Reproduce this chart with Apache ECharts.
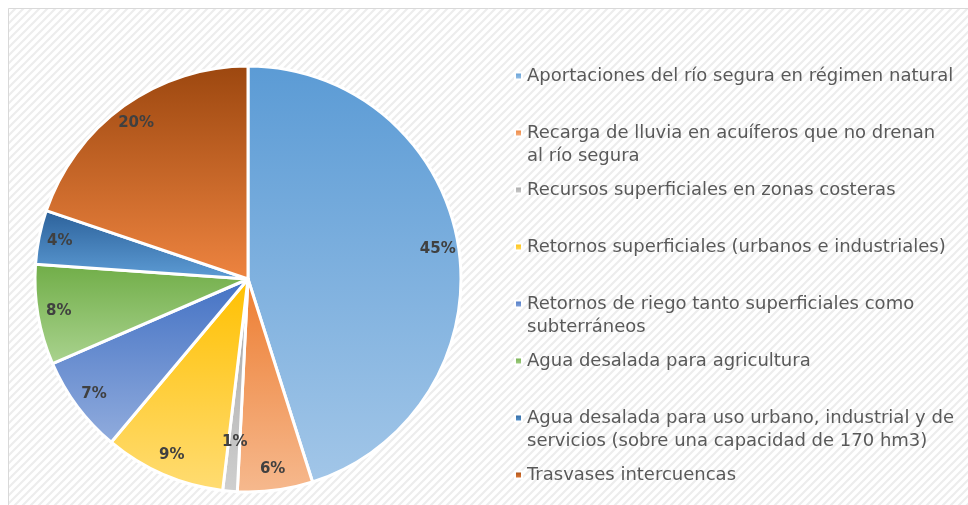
<!DOCTYPE html>
<html><head><meta charset="utf-8">
<script src="https://cdn.jsdelivr.net/npm/echarts@6/dist/echarts.min.js"></script>
<style>html,body{margin:0;padding:0;background:#fff}#c{width:968px;height:505px}</style>
</head><body><div id="c"></div>
<script>
const categories = [
  'Aportaciones del río segura en régimen natural',
  'Recarga de lluvia en acuíferos que no drenan al río segura',
  'Recursos superficiales en zonas costeras',
  'Retornos superficiales (urbanos e industriales)',
  'Retornos de riego tanto superficiales como subterráneos',
  'Agua desalada para agricultura',
  'Agua desalada para uso urbano, industrial y de servicios (sobre una capacidad de 170 hm3)',
  'Trasvases intercuencas'
];
const values = [45.1, 5.7, 1.1, 9.2, 7.4, 7.6, 4.1, 19.8];
const legendLines = [
  'Aportaciones del río segura en régimen natural',
  'Recarga de lluvia en acuíferos que no drenan\nal río segura',
  'Recursos superficiales en zonas costeras',
  'Retornos superficiales (urbanos e industriales)',
  'Retornos de riego tanto superficiales como\nsubterráneos',
  'Agua desalada para agricultura',
  'Agua desalada para uso urbano, industrial y de\nservicios (sobre una capacidad de 170 hm3)',
  'Trasvases intercuencas'
];
const colorTop = ['#5B9BD5','#ED7D31','#A5A5A5','#FFC000','#4472C4','#70AD47','#2B6099','#9C470F'];
const colorBottom = ['#A2C6E8','#F6B98E','#CFCFCF','#FFDC73','#91ACDD','#AAD38F','#5E9DD6','#EE8440'];

// background hatch pattern
const pc = document.createElement('canvas');
pc.width = 8; pc.height = 8;
const g = pc.getContext('2d');
g.fillStyle = '#ffffff'; g.fillRect(0,0,8,8);
g.strokeStyle = '#EDEDED'; g.lineWidth = 2.2;
g.beginPath();
g.moveTo(-2,10); g.lineTo(10,-2);
g.moveTo(-2,2); g.lineTo(2,-2);
g.moveTo(6,10); g.lineTo(10,6);
g.stroke();

const chart = echarts.init(document.getElementById('c'), null, {renderer:'canvas'});
const cx = 248, cy = 279, R = 213;
const grad = i => new echarts.graphic.LinearGradient(0,0,0,1,[
  {offset:0,color:colorTop[i]},{offset:1,color:colorBottom[i]}]);

const pieData = categories.map((n,i)=>({name:n,value:values[i],itemStyle:{color:grad(i)}}));
const labelData = categories.map((n,i)=>{
  const d = {name:n,value:values[i]};
  if (values[i] < 2) d.label = {offset:[3,-28]};
  return d;
});

const legends = categories.map((n,i)=>{
  const multi = legendLines[i].indexOf('\n') >= 0;
  const lineY = 76 + 57*i;
  return {
    orient:'vertical', left:514, top: lineY - 11.5 - (multi ? 23 : 0), padding:0,
    icon:'rect', itemWidth:7, itemHeight:7, selectedMode:false,
    data:[n],
    formatter: () => multi ? ' \n' + legendLines[i] : legendLines[i],
    textStyle:{fontFamily:'DejaVu Sans', fontSize:18, color:'#595959', lineHeight:23}
  };
});

chart.setOption({
  animation:false,
  graphic:[{type:'rect', z:-10, shape:{x:8.5,y:8.5,width:980,height:520},
    style:{fill:{image:pc,repeat:'repeat'}, stroke:'#D9D9D9', lineWidth:1}}],
  legend: legends,
  series:[
    {type:'pie', center:[cx,cy], radius:R, startAngle:90, clockwise:true,
     label:{show:false}, labelLine:{show:false},
     itemStyle:{borderColor:'#ffffff', borderWidth:3},
     emphasis:{disabled:true}, silent:true, data:pieData},
    {type:'pie', center:[cx,cy], radius:[165,R], startAngle:90, clockwise:true,
     silent:true, emphasis:{disabled:true}, labelLine:{show:false},
     itemStyle:{color:'rgba(0,0,0,0)', borderWidth:0},
     label:{show:true, position:'inside', fontFamily:'DejaVu Sans', fontWeight:'bold',
       fontSize:15, color:'#404040',
       formatter:p=>Math.round(p.percent)+'%'},
     data:labelData}
  ]
});
</script></body></html>
